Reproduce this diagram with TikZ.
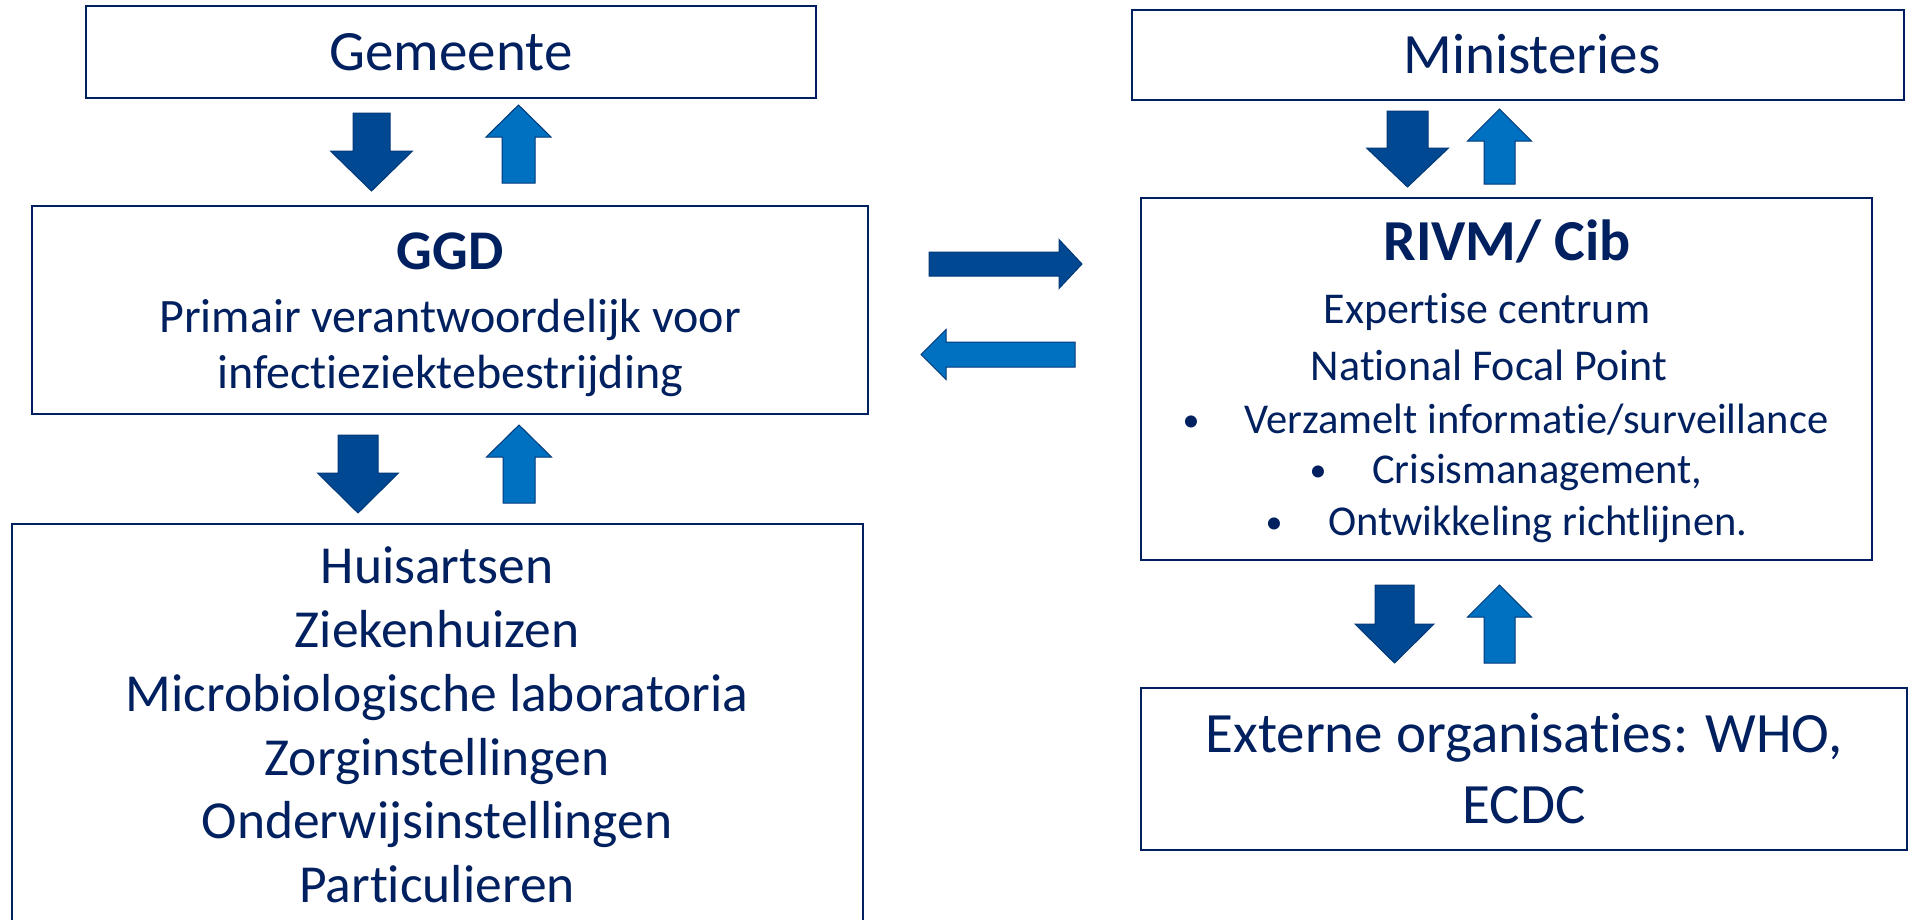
\documentclass[tikz,border=0pt]{standalone}
\usepackage{fontspec}
\setmainfont{Carlito}[Ligatures=NoCommon]
\definecolor{navy}{RGB}{0,32,96}
\definecolor{downblue}{RGB}{0,72,146}
\definecolor{upblue}{RGB}{0,112,192}
\definecolor{arrowedge}{RGB}{0,56,120}
\tikzset{
  box/.style={draw=navy, line width=2pt, rectangle, inner sep=0pt},
  txt/.style={text=navy, anchor=base, inner sep=0pt},
  darr/.style={fill=downblue, draw=arrowedge, line width=1pt},
  uarr/.style={fill=upblue, draw=arrowedge, line width=1pt},
  fbig/.style={font=\fontsize{57}{60}\selectfont},
  fgbold/.style={font=\fontsize{56}{60}\selectfont\bfseries},
  frbold/.style={font=\fontsize{58}{62}\selectfont\bfseries},
  flist/.style={font=\fontsize{53.5}{57}\selectfont},
  fmid/.style={font=\fontsize{48}{52}\selectfont},
  frmid/.style={font=\fontsize{44}{48}\selectfont},
  fsmall/.style={font=\fontsize{42.5}{46}\selectfont},
  fbullet/.style={font=\fontsize{34}{38}\selectfont},
}
% style, centre x, shaft half width, head half width, start y, head base y, tip y
\newcommand{\varrow}[7]{%
  \filldraw[#1] ({#2-#3},#5) -- ({#2+#3},#5) -- ({#2+#3},#6) -- ({#2+#4},#6) -- (#2,#7) -- ({#2-#4},#6) -- ({#2-#3},#6) -- cycle;}
% style, centre y, shaft half width, head half width, start x, head base x, tip x
\newcommand{\harrow}[7]{%
  \filldraw[#1] (#5,{#2-#3}) -- (#5,{#2+#3}) -- (#6,{#2+#3}) -- (#6,{#2+#4}) -- (#7,#2) -- (#6,{#2-#4}) -- (#6,{#2-#3}) -- cycle;}
\begin{document}
\begin{tikzpicture}[x=1pt,y=-1pt]
\useasboundingbox[fill=white] (0,0) rectangle (1929,919);

% boxes
\node[box, minimum width=730pt, minimum height=92pt] (gem) at (451,52) {};
\node[box, minimum width=836pt, minimum height=208pt] (ggd) at (450,310) {};
\begin{scope}
  \clip (0,0) rectangle (1929,919);
  \node[box, minimum width=851pt, minimum height=416pt] (huis) at (437.5,732) {};
\end{scope}
\node[box, minimum width=772pt, minimum height=90pt] (min) at (1518,55) {};
\node[box, minimum width=731pt, minimum height=362pt] (rivm) at (1506.5,379) {};
\node[box, minimum width=766pt, minimum height=162pt] (ext) at (1524,769) {};

% texts
\node[txt, fbig] (tgem) at (451,70) {Gemeente};
\node[txt, fgbold] (tggd) at (450,269) {GGD};
\node[txt, fmid] (tggd1) at (450,332) {Primair verantwoordelijk voor};
\node[txt, fmid] (tggd2) at (450,388) {infectieziektebestrijding};

\node[txt, flist] (h1) at (437,583) {Huisartsen};
\node[txt, flist] (h2) at (437,647) {Ziekenhuizen};
\node[txt, flist] (h3) at (437,711) {Microbiologische laboratoria};
\node[txt, flist] (h4) at (437,775) {Zorginstellingen};
\node[txt, flist] (h5) at (437,838) {Onderwijsinstellingen};
\node[txt, flist] (h6) at (437,902) {Particulieren};

\node[txt, fbig] (tmin) at (1532,73) {Ministeries};
\node[txt, frbold] (trivm) at (1507,260) {RIVM/ Cib};
\node[txt, frmid] (tr1) at (1487,323) {Expertise centrum};
\node[txt, frmid] (tr2) at (1489,380) {National Focal Point};
\node[txt, fbullet] (b1) at (1191,431) {\textbullet};
\node[txt, fsmall, anchor=base west] (l1) at (1244,433) {Verzamelt informatie/surveillance};
\node[txt, fbullet] (b2) at (1318,481) {\textbullet};
\node[txt, fsmall, anchor=base west] (l2) at (1372,483) {Crisismanagement,};
\node[txt, fbullet] (b3) at (1274,533) {\textbullet};
\node[txt, fsmall, anchor=base west] (l3) at (1328,535) {Ontwikkeling richtlijnen.};

\node[txt, fbig] (te1) at (1524,752) {Externe organisaties: WHO,};
\node[txt, fbig] (te2) at (1524,823) {ECDC};

% block arrows
\varrow{darr}{371.5}{18.5}{41}{113}{151}{191}
\varrow{uarr}{518.5}{16.5}{32.5}{183}{137}{105}
\varrow{darr}{358}{20}{40.5}{435}{473}{513}
\varrow{uarr}{519}{16}{32.5}{503}{457}{425}
\varrow{darr}{1407.5}{20.5}{41}{111}{148}{187}
\varrow{uarr}{1499.5}{15.5}{32}{184}{141}{109}
\varrow{darr}{1394.5}{19.5}{39.5}{585}{624}{663}
\varrow{uarr}{1499.5}{15.5}{32}{663}{617}{585}
\harrow{darr}{264}{12}{24.5}{929}{1059}{1082}
\harrow{uarr}{354.5}{12.5}{25}{1075}{946}{921}
\end{tikzpicture}
\end{document}
